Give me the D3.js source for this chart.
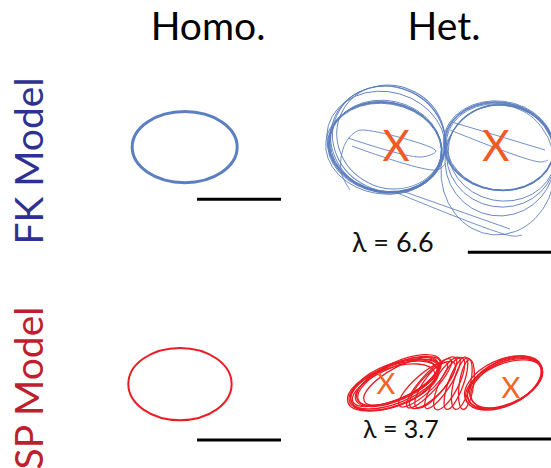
<!DOCTYPE html>
<html>
<head>
<meta charset="utf-8">
<script src="https://cdn.jsdelivr.net/npm/d3@7"></script>
<style>
  html, body { margin: 0; padding: 0; background: #fff; }
  svg { display: block; font-family: Lato, "Open Sans", sans-serif; }
</style>
</head>
<body>
<svg id="fig" width="551" height="468"></svg>
<script>
// Tip trajectories of spiral waves (units: mm). Scale bar = 10 mm.
const columnTitles = ["Homo.", "Het."];
const rowLabels = ["FK Model", "SP Model"];
const wavelengths = ["λ = 6.6", "λ = 3.7"];
const scaleBarMm = 10;

// Homogeneous tissue: one stable circular core  [cx, cy, rx, ry, rotation°]
const fkHomoCore = [[7.7, 6.8, 6.25, 4.23, 0]];
const spHomoCore = [[7.14, 5.24, 6.15, 4.3, 0]];

// Heterogeneous FK: loops pinned around two obstacles
const fkHetLoops = [
  [7.74, 7.98, 6.79, 5.36, 10], [7.80, 7.92, 6.72, 5.30, 11], [7.70, 8.04, 6.84, 5.36, 9],
  [7.84, 7.86, 6.67, 5.40, 12], [7.74, 8.08, 6.76, 5.26, 10], [7.80, 7.98, 6.79, 5.30, 11],
  [7.60, 8.15, 6.95, 5.42, 8],
  [8.10, 7.14, 6.90, 6.31, 22], [8.45, 6.79, 6.55, 6.07, 28], [7.86, 7.38, 7.14, 5.95, 16],
  [8.20, 7.02, 6.80, 6.20, 25],
  [21.31, 7.86, 6.55, 5.24, 8], [21.37, 7.92, 6.49, 5.18, 9], [21.25, 7.80, 6.61, 5.30, 7],
  [21.43, 7.98, 6.43, 5.12, 10], [21.31, 7.92, 6.55, 5.24, 8],
  [21.67, 8.69, 6.43, 5.70, 12], [21.55, 9.05, 6.50, 6.07, 10], [21.43, 9.52, 6.55, 6.67, 8],
  [21.19, 10.71, 6.79, 7.74, 4]
];
// Heterogeneous FK: drifting tip segments between loops
const fkHetDrift = [
  [[3.57, 13.10], [2.62, 11.31], [2.50, 9.29], [3.10, 7.38], [4.05, 6.31], [5.00, 5.95],
   [13.81, 8.45], [12.02, 9.17], [3.33, 6.90]],
  [[3.81, 7.86], [13.93, 10.71], [15.0, 9.88]],
  [[15.71, 5.0], [26.79, 8.33]],
  [[15.48, 5.95], [26.19, 9.76], [27.14, 9.52]],
  [[8.93, 13.33], [22.86, 18.57], [24.05, 18.45]],
  [[9.76, 13.21], [22.62, 17.74]]
];
const fkObstacles = [[9.05, 7.74], [20.95, 7.74]];

// Heterogeneous SP: meandering loops
const spHetLoops = [
  [6.55, 5.24, 5.60, 2.26, -22], [6.79, 5.0, 5.36, 2.14, -24], [6.31, 5.48, 5.71, 2.38, -20],
  [6.90, 4.88, 5.24, 2.02, -26], [6.43, 5.36, 5.48, 2.50, -21], [6.67, 5.12, 5.60, 1.90, -23],
  [6.19, 5.60, 5.36, 2.26, -19], [7.02, 4.76, 5.48, 2.14, -25], [7.40, 4.90, 5.10, 1.80, -28],
  [9.90, 5.30, 3.80, 1.10, -42], [10.60, 5.15, 3.85, 1.00, -48], [11.40, 5.05, 3.75, 1.20, -52],
  [12.20, 5.10, 3.60, 0.95, -57], [13.00, 5.20, 3.45, 1.10, -63], [13.80, 5.15, 3.30, 0.90, -70],
  [14.50, 5.20, 3.15, 1.00, -76], [15.05, 5.30, 3.00, 0.85, -82], [11.00, 5.35, 3.70, 1.30, -46],
  [19.64, 5.12, 4.76, 2.62, -25], [19.52, 5.24, 4.88, 2.50, -24], [19.76, 5.0, 4.64, 2.62, -26],
  [19.64, 5.24, 4.76, 2.38, -23], [19.40, 5.12, 4.88, 2.74, -25], [19.76, 5.12, 4.52, 2.50, -27]
];
const spObstacles = [[5.48, 5.0], [20.36, 5.48]];

// Panel frames: origin (px) of each panel's mm coordinate system
const pxPerMm = 8.4;
const panels = [
  { ox: 120, oy: 90, loops: fkHomoCore, drift: [], obstacles: [], bar: [9.17, 13.0],
    color: "#5b7fc0", width: 3, opacity: 1, xColor: null, xSize: 0 },
  { ox: 320, oy: 80, loops: fkHetLoops, drift: fkHetDrift, obstacles: fkObstacles, bar: [17.6, 20.5],
    label: wavelengths[0], labelAt: [3.8, 20.5], labelSize: 27,
    color: "#5a7dbd", width: 0.9, opacity: 0.95, xColor: "#f15a24", xSize: 42 },
  { ox: 120, oy: 340, loops: spHomoCore, drift: [], obstacles: [], bar: [9.17, 11.9],
    color: "#ec1c24", width: 2, opacity: 1, xColor: null, xSize: 0 },
  { ox: 340, oy: 340, loops: spHetLoops, drift: [], obstacles: spObstacles, bar: [15.12, 11.79],
    label: wavelengths[1], labelAt: [2.74, 11.67], labelSize: 25,
    color: "#ec1c24", width: 1.3, opacity: 1, xColor: "#f26522", xSize: 29 }
];

const svg = d3.select("#fig");
svg.append("defs").append("clipPath").attr("id", "page")
  .append("rect").attr("width", 551).attr("height", 468);

const len = d3.scaleLinear().domain([0, 1]).range([0, pxPerMm]);

panels.forEach(p => {
  const x = d3.scaleLinear().domain([0, 1]).range([p.ox, p.ox + pxPerMm]);
  const y = d3.scaleLinear().domain([0, 1]).range([p.oy, p.oy + pxPerMm]);
  const g = svg.append("g").attr("clip-path", "url(#page)");

  g.selectAll("ellipse.loop").data(p.loops).join("ellipse")
    .attr("class", "loop")
    .attr("cx", d => x(d[0])).attr("cy", d => y(d[1]))
    .attr("rx", d => len(d[2])).attr("ry", d => len(d[3]))
    .attr("transform", d => `rotate(${d[4]},${x(d[0])},${y(d[1])})`)
    .attr("fill", "none").attr("stroke", p.color)
    .attr("stroke-width", p.width).attr("stroke-opacity", p.opacity);

  const line = d3.line().x(d => x(d[0])).y(d => y(d[1])).curve(d3.curveCatmullRom.alpha(0.5));
  g.selectAll("path.drift").data(p.drift).join("path")
    .attr("class", "drift").attr("d", line)
    .attr("fill", "none").attr("stroke", p.color)
    .attr("stroke-width", p.width).attr("stroke-opacity", p.opacity);

  g.selectAll("text.obst").data(p.obstacles).join("text")
    .attr("class", "obst")
    .attr("x", d => x(d[0])).attr("y", d => y(d[1]))
    .attr("text-anchor", "middle").attr("dominant-baseline", "central")
    .attr("font-size", p.xSize).attr("fill", p.xColor).text("X");

  // scale bar
  g.append("line")
    .attr("x1", x(p.bar[0])).attr("x2", x(p.bar[0] + scaleBarMm))
    .attr("y1", y(p.bar[1])).attr("y2", y(p.bar[1]))
    .attr("stroke", "#000").attr("stroke-width", 3);

  if (p.label) {
    g.append("text").attr("x", x(p.labelAt[0])).attr("y", y(p.labelAt[1]))
      .attr("font-size", p.labelSize).attr("fill", "#111").text(p.label);
  }
});

// Column titles
const colX = d3.scaleOrdinal().domain(columnTitles).range([208, 444]);
svg.selectAll("text.col").data(columnTitles).join("text")
  .attr("class", "col")
  .attr("x", d => colX(d)).attr("y", 40)
  .attr("text-anchor", "middle").attr("font-size", 39).attr("fill", "#000")
  .text(d => d);

// Row labels
const rowY = d3.scaleOrdinal().domain(rowLabels).range([161, 388]);
const rowColor = d3.scaleOrdinal().domain(rowLabels).range(["#2e3192", "#be1e2d"]);
svg.selectAll("text.row").data(rowLabels).join("text")
  .attr("class", "row")
  .attr("transform", d => `translate(43,${rowY(d)}) rotate(-90)`)
  .attr("text-anchor", "middle").attr("font-size", 39)
  .attr("fill", d => rowColor(d))
  .text(d => d);
</script>
</body>
</html>
